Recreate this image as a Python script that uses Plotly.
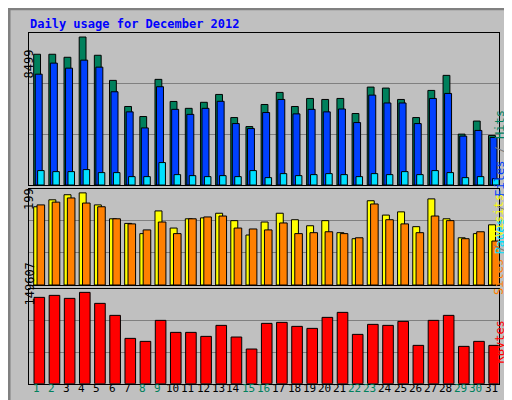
import plotly.graph_objects as go

days = list(range(1, 32))
hits = [7509, 7509, 7336, 8499, 7451, 6009, 4509, 3932, 6067, 4798, 4403, 4749, 5201, 3874, 3356, 4624, 5317, 4509, 4971, 4913, 4971, 4105, 5624, 5567, 4913, 3874, 5432, 6297, 2923, 3673, 2846]
files = [6365, 7000, 6711, 7172, 6769, 5355, 4201, 3279, 5644, 4345, 4057, 4403, 4807, 3528, 3241, 4163, 4913, 4086, 4345, 4201, 4365, 3586, 5163, 4711, 4711, 3528, 4971, 5259, 2808, 3134, 2731]
pages = [827, 769, 769, 885, 712, 712, 481, 481, 1288, 596, 538, 481, 538, 481, 827, 423, 654, 538, 596, 654, 596, 481, 654, 596, 769, 596, 827, 712, 423, 481, 365]
visits = [169, 184, 195, 199, 173, 143, 133, 111, 160, 123, 143, 145, 155, 139, 108, 136, 155, 141, 128, 139, 113, 100, 182, 151, 158, 126, 186, 143, 102, 111, 130]
sites = [173, 179, 188, 177, 169, 143, 132, 119, 136, 111, 143, 147, 149, 123, 121, 119, 134, 111, 113, 115, 111, 102, 175, 141, 132, 113, 149, 139, 100, 115, 95]
kbytes = [141414, 144690, 139776, 149607, 131586, 111930, 74256, 69342, 103740, 84084, 84084, 77532, 95550, 76440, 56784, 98826, 100464, 93912, 90636, 108654, 116844, 80808, 97188, 95550, 102102, 62790, 103740, 111930, 61152, 69342, 62790]
max_labels = ["8499", "199", "149607"]
weekend = {1, 2, 8, 9, 15, 16, 22, 23, 29, 30}

R1, R2, R3 = 8730, 208, 155610
W, H = 512, 400
def py(p): return 1 - p / H

fig = go.Figure()
ln = dict(color="black", width=1)
def bar(y, color, off, w, xa, ya):
    fig.add_trace(go.Bar(x=days, y=y, marker=dict(color=color, line=ln), offset=off, width=w,
                         xaxis=xa, yaxis=ya, showlegend=False, hoverinfo="skip"))
bar(hits, "#00805c", -0.17, 0.45, "x", "y")
bar(files, "#0040ff", -0.07, 0.46, "x", "y")
bar(pages, "#00e0ff", 0.09, 0.43, "x", "y")
bar(visits, "#ffff00", -0.17, 0.46, "x2", "y2")
bar(sites, "#ff8000", 0.05, 0.5, "x2", "y2")
bar(kbytes, "#ff0000", -0.15, 0.7, "x3", "y3")

xd = [20.7 / W, 490.7 / W]
common_x = dict(range=[0.5, 31.5], domain=xd, showgrid=False, zeroline=False, showline=True,
                linecolor="black", mirror=True, showticklabels=False, automargin=False, ticks="")
fig.update_layout(
    width=W, height=H, margin=dict(l=0, r=0, t=0, b=0, autoexpand=False),
    paper_bgcolor="#c0c0c0", plot_bgcolor="#c0c0c0", barmode="overlay",
    font=dict(family="DejaVu Sans Mono", size=12, color="black"),
    xaxis=dict(common_x, anchor="y"),
    xaxis2=dict(common_x, anchor="y2"),
    xaxis3=dict(common_x, anchor="y3"),
)
for name, R, dom, xa in [("yaxis", R1, [py(177), py(25)], "x"), ("yaxis2", R2, [py(277), py(180.7)], "x2"),
                         ("yaxis3", R3, [py(375.7), py(280.7)], "x3")]:
    fig.layout[name] = dict(range=[0, R], domain=dom, tickvals=[R / 3, 2 * R / 3],
                            showticklabels=False, showgrid=True, gridcolor="#808080", gridwidth=1,
                            zeroline=False, showline=True, linecolor="black", mirror=True,
                            anchor=xa, automargin=False, ticks="")

ann = []
ann.append(dict(x=20 / W, y=py(16), xref="paper", yref="paper", xanchor="left", yanchor="middle",
                text="<b>Daily usage for December 2012</b>", showarrow=False,
                font=dict(color="#0000ff", size=12, family="DejaVu Sans Mono")))
for lab, yc in zip(max_labels, [40, 191, 300]):
    ann.append(dict(x=12 / W, y=py(yc), xref="paper", yref="paper", text=lab, textangle=-90,
                    showarrow=False, font=dict(size=12)))
for d in days:
    ann.append(dict(x=d, y=py(389), xref="x3", yref="paper", text=str(d), showarrow=False,
                    font=dict(size=11, color="#00805c" if d in weekend else "black")))
right = [("<span style='color:#00e0ff'>Pages</span> / <span style='color:#0040ff'>Files</span> / <span style='color:#00805c'>Hits</span>", 100),
         ("<span style='color:#ff8000'>Sites</span> / <span style='color:#ffff00'>Visits</span>", 237),
         ("<span style='color:#ff0000'>KBytes</span>", 358)]
for t, yc in right:
    ann.append(dict(x=500 / W, y=py(yc), xref="paper", yref="paper", text=t, textangle=-90,
                    showarrow=False, font=dict(size=12, color="#808080")))
fig.update_layout(annotations=ann)
fig.update_layout(shapes=[
    dict(type="rect", xref="paper", yref="paper", x0=0.002, x1=0.998, y0=0.002, y1=0.998,
         line=dict(color="#808080", width=3)),
])
fig.write_html("out.html")
